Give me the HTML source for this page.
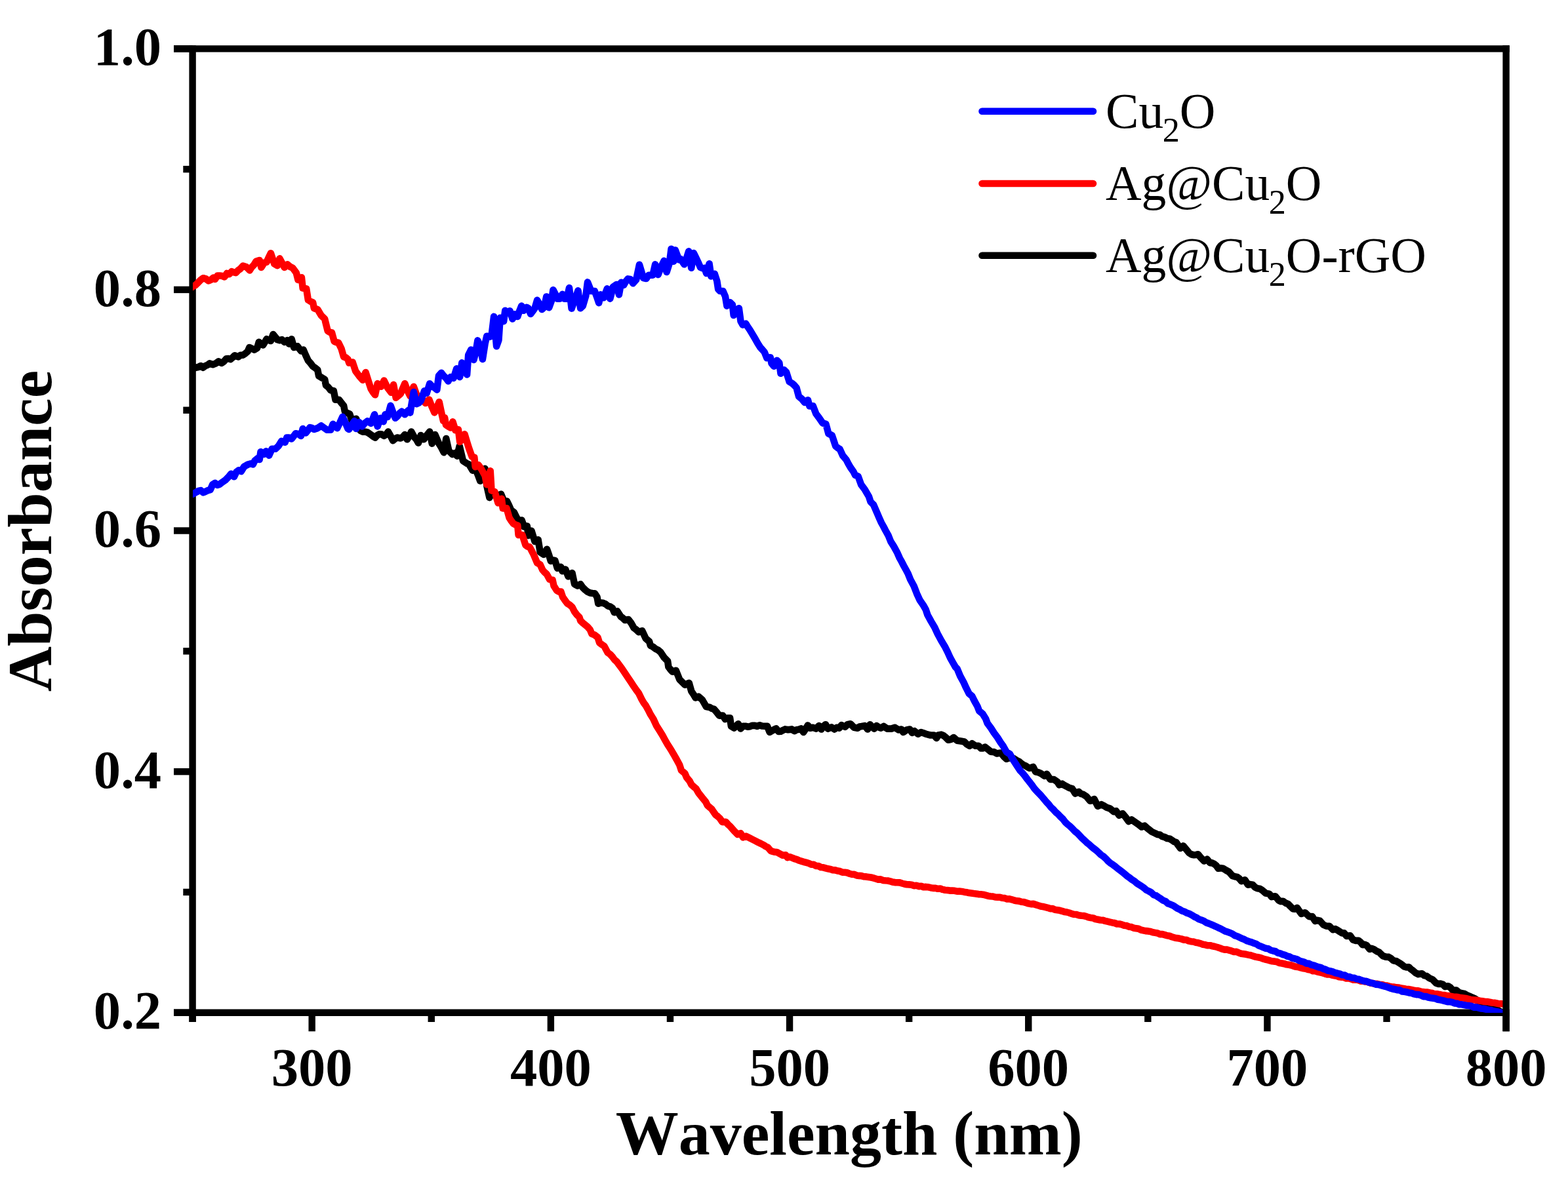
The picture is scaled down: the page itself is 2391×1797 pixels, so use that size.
<!DOCTYPE html>
<html lang="en">
<head>
<meta charset="utf-8">
<title>UV-Vis absorbance spectra</title>
<style>
html,body{margin:0;padding:0;background:#fff;}
body{width:2391px;height:1797px;overflow:hidden;}
svg{display:block;}
text{font-family:"Liberation Serif","DejaVu Serif",serif;fill:#000;font-kerning:none;}
.tick{font-weight:bold;font-size:82.6px;}
.title{font-weight:bold;font-size:96px;}
.leg{font-size:75.6px;}
.sub{font-size:52.2px;}
.ax{stroke:#000;stroke-width:10.4;fill:none;stroke-linecap:butt;}
.curve{fill:none;stroke-width:10.6;stroke-linejoin:round;stroke-linecap:round;}
</style>
</head>
<body>
<svg width="2391" height="1797" viewBox="0 0 2391 1797">
<defs><clipPath id="plot"><rect x="294.0" y="74.35" width="2003.0" height="1470.5500000000002"/></clipPath></defs>
<rect x="0" y="0" width="2391" height="1797" fill="#fff"/>
<g><path class="ax" d="M293.6,69.14999999999999 V1559.0"/><path class="ax" d="M265.0,1544.7 H2301.7999999999997"/><path class="ax" d="M265.0,1544.70 H293.6"/><path class="ax" d="M279.3,1360.91 H293.6"/><path class="ax" d="M265.0,1177.11 H293.6"/><path class="ax" d="M279.3,993.32 H293.6"/><path class="ax" d="M265.0,809.53 H293.6"/><path class="ax" d="M279.3,625.73 H293.6"/><path class="ax" d="M265.0,441.94 H293.6"/><path class="ax" d="M279.3,258.14 H293.6"/><path class="ax" d="M265.0,74.35 H293.6"/><path class="ax" d="M293.60,1544.7 V1559.0"/><path class="ax" d="M475.69,1544.7 V1573.3"/><path class="ax" d="M657.78,1544.7 V1559.0"/><path class="ax" d="M839.87,1544.7 V1573.3"/><path class="ax" d="M1021.96,1544.7 V1559.0"/><path class="ax" d="M1204.05,1544.7 V1573.3"/><path class="ax" d="M1386.15,1544.7 V1559.0"/><path class="ax" d="M1568.24,1544.7 V1573.3"/><path class="ax" d="M1750.33,1544.7 V1559.0"/><path class="ax" d="M1932.42,1544.7 V1573.3"/><path class="ax" d="M2114.51,1544.7 V1559.0"/><path class="ax" d="M2296.60,1544.7 V1573.3"/></g>
<g clip-path="url(#plot)">
<path class="curve" stroke="#000" d="M289.0,563.4 L292.2,562.7 L295.4,561.9 L298.6,560.7 L302.4,560.0 L306.2,558.0 L309.8,560.7 L313.1,558.1 L316.5,556.8 L319.8,554.4 L324.3,556.2 L328.8,554.6 L333.3,551.3 L337.9,553.9 L341.5,551.4 L345.1,547.2 L348.2,547.0 L351.4,548.1 L354.6,545.5 L357.8,542.3 L363.2,544.4 L366.8,541.7 L370.4,541.7 L374.0,539.3 L377.6,536.3 L380.4,530.0 L384.0,531.8 L387.6,533.6 L392.1,530.9 L394.8,521.8 L398.0,525.1 L401.2,526.4 L406.6,517.3 L409.8,518.7 L412.9,520.0 L416.5,510.1 L419.7,514.0 L422.9,518.2 L426.5,519.2 L430.1,518.2 L433.7,521.8 L438.2,519.1 L440.9,524.6 L444.6,517.3 L448.2,530.0 L453.6,528.2 L459.0,535.4 L462.6,533.6 L466.2,542.0 L469.9,549.9 L473.5,554.0 L477.1,558.9 L480.7,561.2 L484.3,564.3 L486.1,573.4 L490.6,576.1 L495.2,578.8 L497.0,587.8 L500.6,590.6 L504.2,595.3 L508.8,596.2 L511.5,609.7 L516.9,609.7 L520.5,614.5 L524.1,618.8 L525.9,627.8 L529.5,630.1 L533.2,631.4 L536.8,642.3 L540.0,640.3 L543.1,638.7 L546.2,648.5 L549.4,656.7 L553.0,658.6 L556.7,658.7 L560.3,659.5 L565.7,663.1 L568.9,665.7 L572.0,667.6 L575.2,664.1 L578.4,662.2 L582.0,662.6 L585.6,664.9 L588.8,662.8 L591.9,658.6 L595.5,664.9 L599.2,672.1 L602.4,669.2 L605.5,667.6 L610.9,668.5 L614.1,666.7 L617.3,663.1 L620.9,670.3 L624.0,665.0 L627.2,658.6 L631.7,666.7 L634.9,670.4 L638.0,675.7 L641.7,664.0 L646.2,670.3 L650.7,664.1 L655.2,658.6 L658.8,676.6 L663.4,663.1 L668.8,675.7 L672.8,682.4 L676.9,690.2 L680.3,669.1 L684.4,687.7 L689.8,693.1 L693.5,691.3 L697.1,695.8 L700.7,680.5 L706.1,703.1 L711.5,706.7 L715.2,708.5 L720.6,717.5 L725.1,715.7 L728.7,724.2 L732.3,733.8 L735.0,723.0 L739.6,714.8 L742.3,741.0 L746.4,759.1 L749.3,753.5 L752.2,750.1 L755.4,753.8 L758.6,757.3 L764.0,753.7 L768.5,764.6 L773.0,764.6 L776.1,770.9 L779.3,778.1 L783.9,781.7 L787.0,787.8 L790.2,794.4 L795.6,793.5 L799.2,803.4 L803.8,802.5 L805.6,817.0 L810.5,809.8 L815.5,826.0 L820.6,823.3 L823.7,842.3 L829.1,845.9 L834.0,837.8 L837.0,846.2 L839.9,855.9 L843.1,854.6 L846.3,855.0 L849.9,866.7 L855.3,864.9 L857.5,871.2 L862.2,868.5 L866.5,879.4 L869.5,875.7 L872.5,874.0 L876.1,891.1 L880.7,893.6 L885.2,891.2 L888.8,896.4 L892.4,899.9 L896.0,902.7 L899.7,904.4 L903.3,905.0 L906.9,905.3 L910.5,910.7 L912.3,920.7 L916.0,919.4 L919.6,919.8 L923.2,921.3 L926.8,924.3 L930.4,925.3 L934.0,927.9 L936.7,934.2 L941.3,932.4 L946.7,940.6 L949.9,942.9 L953.0,946.0 L958.4,945.1 L962.5,950.5 L966.6,957.8 L970.2,960.5 L973.8,964.1 L979.2,962.3 L984.7,974.0 L990.1,978.6 L991.9,984.9 L995.5,986.5 L999.1,989.4 L1003.2,991.4 L1007.3,994.8 L1012.7,1003.0 L1018.1,1008.4 L1019.4,1017.4 L1022.4,1021.4 L1025.4,1024.7 L1030.8,1022.9 L1036.2,1036.4 L1040.2,1040.4 L1044.3,1044.6 L1047.5,1043.1 L1050.7,1041.8 L1054.3,1054.5 L1057.4,1059.1 L1060.6,1064.4 L1065.1,1062.6 L1070.6,1067.2 L1073.8,1072.7 L1076.9,1078.0 L1082.3,1078.9 L1085.4,1080.9 L1088.6,1081.6 L1092.7,1086.2 L1096.8,1091.6 L1102.2,1091.6 L1105.8,1097.0 L1109.4,1095.2 L1113.1,1095.2 L1114.9,1107.8 L1119.4,1110.6 L1122.6,1107.4 L1125.7,1104.2 L1129.3,1111.5 L1132.9,1107.8 L1136.5,1107.7 L1140.2,1108.7 L1143.8,1108.2 L1147.4,1106.7 L1151.0,1106.9 L1154.6,1107.9 L1158.3,1106.2 L1161.9,1107.5 L1166.0,1107.7 L1170.0,1107.8 L1173.6,1116.9 L1176.9,1115.0 L1180.3,1112.9 L1183.6,1111.5 L1187.2,1116.0 L1190.5,1115.7 L1193.8,1114.0 L1197.1,1112.4 L1201.7,1113.3 L1207.1,1112.4 L1211.6,1115.1 L1214.9,1113.2 L1218.3,1112.7 L1221.6,1111.5 L1225.1,1117.0 L1228.4,1112.0 L1231.8,1106.5 L1235.4,1110.7 L1239.9,1109.8 L1244.4,1111.6 L1248.9,1107.1 L1252.5,1112.5 L1255.7,1107.8 L1258.9,1105.2 L1262.5,1111.6 L1267.9,1109.4 L1272.4,1112.5 L1276.1,1109.8 L1279.7,1110.7 L1283.3,1106.1 L1288.7,1108.9 L1292.3,1105.2 L1296.9,1104.3 L1302.3,1109.8 L1307.7,1110.7 L1310.8,1108.4 L1314.0,1108.0 L1318.6,1107.1 L1323.1,1112.5 L1326.7,1105.2 L1329.8,1108.6 L1333.0,1111.6 L1336.6,1107.1 L1339.8,1109.4 L1343.0,1110.7 L1347.5,1108.0 L1352.9,1111.6 L1356.1,1111.5 L1359.2,1111.6 L1364.7,1109.8 L1370.1,1113.4 L1374.6,1112.5 L1377.3,1117.0 L1382.7,1113.4 L1387.3,1112.5 L1390.9,1117.9 L1394.5,1115.2 L1399.9,1119.7 L1404.4,1117.0 L1408.1,1118.2 L1411.7,1119.7 L1415.3,1120.6 L1418.9,1121.5 L1424.3,1121.5 L1428.0,1126.0 L1430.7,1121.5 L1435.2,1120.6 L1438.3,1121.9 L1441.5,1124.2 L1446.0,1128.8 L1450.6,1127.8 L1454.2,1125.1 L1459.6,1129.7 L1465.0,1130.6 L1470.5,1131.5 L1474.5,1135.5 L1478.6,1137.8 L1482.2,1134.2 L1487.6,1137.8 L1492.2,1137.8 L1495.8,1141.4 L1498.9,1141.5 L1502.1,1139.6 L1506.6,1143.2 L1511.1,1146.8 L1515.7,1147.1 L1520.2,1149.5 L1523.3,1148.8 L1526.5,1148.6 L1530.5,1153.8 L1534.6,1157.7 L1538.2,1156.4 L1541.9,1155.9 L1546.4,1157.3 L1550.9,1160.4 L1554.1,1161.8 L1557.3,1164.5 L1560.5,1166.8 L1563.7,1168.1 L1566.8,1170.2 L1570.0,1171.8 L1575.4,1169.9 L1579.0,1177.2 L1583.1,1178.1 L1587.2,1179.9 L1592.6,1183.5 L1596.2,1180.8 L1601.6,1188.9 L1607.1,1189.0 L1612.5,1192.8 L1615.2,1197.4 L1619.7,1195.7 L1622.8,1197.8 L1626.0,1199.4 L1630.5,1201.9 L1635.1,1203.2 L1639.6,1210.5 L1645.0,1207.9 L1648.2,1210.8 L1651.4,1211.6 L1656.8,1215.2 L1662.2,1221.7 L1665.3,1221.1 L1668.5,1219.0 L1674.0,1229.8 L1679.4,1227.2 L1683.5,1229.3 L1687.5,1231.7 L1692.9,1233.6 L1698.4,1238.2 L1702.0,1237.2 L1706.5,1243.7 L1711.9,1241.1 L1716.5,1246.6 L1721.0,1253.0 L1725.5,1250.4 L1730.9,1254.1 L1736.3,1257.8 L1740.9,1261.5 L1745.4,1259.7 L1750.8,1264.4 L1756.2,1268.7 L1761.7,1271.2 L1765.3,1273.1 L1768.9,1273.6 L1772.5,1276.2 L1776.1,1277.0 L1779.8,1279.0 L1783.4,1279.4 L1787.2,1281.7 L1790.4,1284.0 L1793.6,1285.1 L1796.8,1289.7 L1799.9,1293.9 L1804.4,1290.4 L1809.0,1295.9 L1813.5,1301.3 L1817.1,1303.5 L1820.7,1304.2 L1823.8,1304.0 L1827.0,1303.3 L1831.5,1308.8 L1836.1,1313.4 L1840.6,1310.8 L1845.1,1316.1 L1848.2,1316.4 L1851.4,1317.8 L1854.6,1320.4 L1857.8,1324.8 L1861.4,1324.2 L1865.0,1324.7 L1869.5,1327.5 L1874.0,1330.0 L1879.5,1336.2 L1883.1,1337.2 L1886.7,1337.9 L1889.8,1340.3 L1893.0,1344.1 L1898.4,1342.4 L1903.0,1349.7 L1906.6,1349.1 L1910.2,1349.8 L1913.8,1353.5 L1917.4,1355.3 L1921.1,1355.7 L1924.7,1358.0 L1930.1,1362.6 L1935.5,1363.6 L1939.1,1368.1 L1944.6,1367.2 L1950.0,1373.7 L1953.2,1375.1 L1956.3,1374.7 L1960.3,1377.5 L1964.4,1379.2 L1968.1,1383.0 L1971.7,1386.5 L1974.8,1386.7 L1978.0,1384.8 L1981.2,1389.7 L1984.3,1393.9 L1989.8,1392.2 L1991.0,1393.0 L1996.4,1398.2 L2000.9,1398.0 L2005.5,1405.0 L2009.1,1403.8 L2012.7,1404.7 L2018.1,1410.7 L2022.7,1412.8 L2027.2,1412.9 L2032.6,1418.1 L2036.2,1417.0 L2039.8,1419.1 L2043.4,1421.5 L2046.6,1423.4 L2049.8,1423.4 L2053.4,1428.0 L2058.8,1427.3 L2063.3,1433.7 L2067.4,1434.9 L2071.5,1434.8 L2074.7,1437.2 L2077.8,1441.2 L2080.9,1440.7 L2084.1,1442.3 L2088.6,1447.9 L2091.8,1446.9 L2095.0,1448.1 L2099.1,1451.0 L2103.1,1452.7 L2108.5,1458.1 L2113.1,1459.6 L2117.6,1459.9 L2121.2,1462.1 L2124.8,1465.4 L2129.4,1466.3 L2133.9,1469.0 L2137.5,1471.4 L2141.1,1474.4 L2144.7,1475.5 L2148.3,1475.3 L2151.5,1478.5 L2154.7,1480.7 L2158.8,1484.2 L2162.8,1486.1 L2168.2,1485.2 L2171.8,1488.1 L2175.4,1488.9 L2179.9,1492.2 L2184.5,1494.3 L2189.9,1499.7 L2193.5,1500.9 L2197.1,1500.6 L2200.3,1501.8 L2203.5,1505.1 L2208.0,1504.2 L2211.6,1506.3 L2215.2,1510.6 L2220.7,1510.6 L2224.3,1513.6 L2227.9,1515.1 L2233.3,1516.0 L2236.9,1518.1 L2240.5,1519.6 L2244.7,1521.5 L2249.0,1523.3 L2253.2,1526.4 L2256.6,1527.6 L2260.0,1529.6 L2263.0,1530.7 L2266.0,1532.6 L2269.5,1534.3 L2273.0,1536.0 L2276.5,1537.5 L2280.0,1539.3 L2283.0,1540.1 L2286.0,1542.2 L2291.0,1544.6 L2295.5,1545.8 L2300.0,1548.8"/>
<path class="curve" stroke="#f00" d="M289.0,440.5 L294.5,436.9 L298.1,435.0 L301.7,431.4 L305.8,427.2 L309.8,424.2 L313.9,425.4 L318.0,428.4 L321.6,426.9 L325.2,423.7 L327.9,426.0 L331.5,420.6 L335.1,420.6 L338.8,421.1 L342.4,422.4 L346.0,417.0 L349.6,418.2 L353.2,414.2 L356.4,415.4 L359.6,416.1 L363.2,412.3 L366.8,409.8 L370.4,405.6 L375.8,407.4 L380.7,412.4 L383.9,407.4 L387.1,404.2 L390.3,398.9 L395.7,397.1 L398.4,407.9 L403.0,400.7 L406.6,399.8 L409.8,392.7 L412.9,386.2 L418.3,402.5 L422.9,405.2 L426.5,394.4 L430.1,401.3 L433.7,407.9 L438.2,403.4 L442.3,406.9 L446.4,408.8 L451.8,416.1 L454.5,426.9 L459.9,423.3 L461.7,439.6 L467.2,440.5 L469.9,457.6 L473.5,459.8 L477.1,461.3 L478.9,470.3 L484.3,472.1 L489.8,481.2 L495.2,486.6 L499.7,504.7 L502.9,506.8 L506.0,507.4 L509.7,520.9 L512.9,522.2 L516.0,522.7 L520.5,531.8 L524.1,544.4 L527.3,545.4 L530.5,548.1 L532.3,553.5 L537.7,552.6 L542.2,566.1 L547.6,573.4 L553.1,579.7 L557.6,568.0 L562.1,582.4 L565.7,593.3 L568.9,598.5 L572.0,602.3 L575.7,585.1 L581.1,589.7 L585.6,580.6 L591.0,591.5 L596.5,598.7 L600.1,586.9 L603.7,606.8 L607.3,603.8 L610.9,600.5 L614.1,592.5 L617.3,585.1 L620.9,595.1 L625.4,604.1 L630.8,589.7 L635.3,602.3 L639.4,605.3 L643.5,609.5 L648.9,615.0 L654.3,609.5 L658.4,620.1 L662.5,629.4 L666.1,621.4 L669.7,613.2 L672.9,628.4 L676.0,642.1 L678.1,637.1 L679.9,647.9 L683.5,650.6 L687.1,652.4 L690.4,643.4 L694.4,656.1 L698.9,655.2 L701.2,674.1 L704.9,669.1 L708.5,662.4 L711.5,672.3 L715.2,684.1 L719.7,696.7 L723.3,697.6 L724.7,712.1 L729.6,709.4 L734.1,715.7 L739.6,725.7 L742.3,739.2 L747.7,718.4 L749.5,748.3 L754.4,750.1 L759.5,767.3 L764.9,760.9 L766.7,775.4 L769.6,775.5 L772.5,775.4 L776.6,789.9 L779.8,794.8 L783.0,798.9 L786.1,800.5 L789.3,801.6 L790.6,816.1 L793.5,815.7 L796.5,816.1 L801.4,831.5 L804.4,833.7 L807.4,834.2 L810.5,839.7 L813.7,845.9 L819.1,858.6 L823.7,861.3 L827.3,869.4 L830.5,873.1 L833.6,875.8 L838.1,883.9 L842.6,884.8 L844.5,893.6 L849.0,900.8 L852.2,902.5 L855.4,902.6 L858.1,910.7 L861.7,916.0 L865.3,920.7 L868.9,922.8 L872.5,926.1 L876.2,933.3 L879.8,938.0 L883.4,941.5 L885.2,946.9 L888.8,950.4 L892.4,953.2 L896.0,956.3 L899.7,960.5 L902.4,966.8 L906.9,968.7 L911.4,972.2 L914.1,980.4 L917.8,983.2 L921.4,985.8 L926.8,995.7 L930.4,998.1 L934.0,1002.1 L937.2,1006.5 L940.4,1009.3 L944.5,1014.7 L948.5,1020.1 L953.0,1026.9 L957.5,1033.7 L962.0,1040.3 L966.6,1047.3 L970.2,1052.5 L973.8,1057.2 L978.3,1066.3 L981.5,1072.0 L984.7,1076.2 L988.3,1082.7 L991.9,1089.8 L996.4,1097.0 L1000.9,1106.9 L1005.5,1114.1 L1010.0,1121.4 L1014.0,1128.7 L1018.1,1135.9 L1021.2,1140.7 L1024.4,1145.8 L1028.1,1152.2 L1031.7,1158.5 L1036.3,1167.1 L1039.0,1175.3 L1044.4,1179.8 L1047.1,1186.1 L1051.6,1191.5 L1054.4,1197.0 L1058.0,1200.2 L1061.6,1203.3 L1065.2,1209.6 L1068.8,1214.1 L1072.4,1218.7 L1076.1,1223.2 L1078.8,1228.6 L1081.9,1231.4 L1085.1,1234.0 L1088.2,1238.6 L1091.4,1243.1 L1094.6,1245.5 L1097.8,1248.5 L1101.4,1253.9 L1106.8,1253.9 L1110.4,1257.9 L1114.0,1261.2 L1119.5,1267.5 L1124.9,1272.9 L1129.4,1271.1 L1133.0,1277.4 L1137.5,1275.6 L1142.0,1277.7 L1146.6,1280.1 L1151.1,1282.4 L1155.6,1284.7 L1160.2,1286.9 L1164.7,1289.2 L1167.8,1291.3 L1171.0,1292.8 L1175.5,1298.2 L1180.0,1299.4 L1184.6,1299.9 L1189.1,1302.4 L1193.6,1304.8 L1198.1,1304.4 L1200.8,1308.1 L1204.4,1307.2 L1208.1,1308.6 L1211.7,1310.2 L1215.3,1311.2 L1218.9,1312.8 L1222.5,1313.9 L1226.2,1315.0 L1229.8,1315.9 L1233.5,1317.0 L1237.1,1318.7 L1240.8,1318.8 L1244.4,1320.9 L1248.0,1321.0 L1251.7,1323.0 L1255.3,1323.3 L1259.0,1324.4 L1262.6,1325.3 L1266.2,1325.9 L1269.9,1327.3 L1273.5,1327.4 L1277.2,1328.5 L1280.8,1329.1 L1284.5,1330.7 L1288.1,1330.7 L1291.7,1331.3 L1295.4,1332.7 L1299.0,1333.8 L1302.7,1333.9 L1306.3,1335.4 L1310.0,1335.9 L1313.6,1336.1 L1317.2,1337.2 L1320.9,1337.4 L1324.5,1337.9 L1328.2,1338.5 L1331.8,1339.4 L1335.4,1340.5 L1339.1,1341.6 L1342.7,1341.4 L1346.4,1342.9 L1350.0,1343.3 L1353.7,1343.5 L1357.3,1344.3 L1360.9,1345.5 L1364.6,1346.1 L1368.2,1346.3 L1371.9,1346.4 L1375.5,1347.5 L1379.1,1348.5 L1382.8,1349.3 L1386.4,1349.4 L1390.1,1349.7 L1393.7,1351.1 L1397.4,1350.8 L1401.0,1352.1 L1404.6,1351.8 L1408.3,1353.2 L1411.9,1352.9 L1415.6,1353.3 L1419.2,1354.2 L1422.9,1354.9 L1426.5,1354.9 L1430.1,1355.8 L1433.8,1355.6 L1437.4,1356.9 L1441.1,1357.7 L1444.7,1358.0 L1448.3,1358.6 L1452.0,1358.5 L1455.6,1358.8 L1459.3,1359.7 L1462.9,1359.5 L1466.6,1359.9 L1470.2,1360.7 L1473.8,1361.2 L1477.5,1362.1 L1481.1,1362.6 L1484.8,1363.1 L1488.4,1363.5 L1492.1,1364.1 L1495.7,1364.3 L1499.3,1364.7 L1503.0,1365.7 L1506.6,1366.7 L1510.3,1367.2 L1513.9,1367.5 L1517.5,1368.5 L1521.2,1368.7 L1524.8,1368.8 L1528.5,1369.8 L1532.1,1370.1 L1535.8,1371.5 L1539.4,1371.4 L1543.0,1372.3 L1546.7,1373.5 L1550.3,1374.3 L1554.0,1374.6 L1557.6,1375.7 L1561.2,1376.1 L1564.9,1377.2 L1568.5,1378.4 L1572.2,1379.1 L1575.8,1378.9 L1579.5,1380.1 L1583.1,1381.3 L1586.7,1382.4 L1590.4,1383.0 L1594.0,1383.8 L1597.7,1384.8 L1601.3,1386.1 L1605.0,1386.0 L1608.6,1387.8 L1612.2,1388.2 L1615.9,1388.8 L1619.5,1389.8 L1623.2,1391.1 L1626.8,1391.5 L1630.4,1392.5 L1634.1,1393.9 L1637.7,1394.8 L1641.4,1395.0 L1645.0,1396.2 L1648.7,1396.8 L1652.3,1397.0 L1655.9,1397.9 L1659.6,1399.3 L1663.2,1399.9 L1666.9,1400.4 L1670.5,1402.1 L1674.2,1402.8 L1677.8,1403.5 L1681.4,1403.7 L1685.1,1404.8 L1688.7,1405.7 L1692.4,1406.6 L1696.0,1407.4 L1699.6,1408.0 L1703.3,1409.5 L1706.9,1409.5 L1710.6,1410.4 L1714.2,1411.8 L1717.9,1412.1 L1721.5,1413.7 L1725.1,1414.1 L1728.8,1415.7 L1732.4,1416.2 L1736.1,1416.8 L1739.7,1418.5 L1743.3,1419.3 L1747.0,1420.1 L1750.6,1420.4 L1754.3,1421.0 L1757.9,1422.2 L1761.6,1422.9 L1765.2,1423.5 L1768.8,1425.1 L1772.5,1425.1 L1776.1,1426.1 L1779.8,1427.3 L1783.4,1427.8 L1787.1,1429.2 L1790.7,1430.3 L1794.3,1431.1 L1798.0,1431.6 L1801.6,1432.4 L1805.3,1433.6 L1808.9,1433.7 L1812.5,1435.3 L1816.2,1436.2 L1819.8,1436.5 L1823.5,1437.7 L1827.1,1438.3 L1830.8,1439.4 L1834.4,1440.8 L1838.0,1441.3 L1841.7,1442.3 L1845.3,1442.2 L1849.0,1443.3 L1852.6,1444.0 L1856.3,1445.0 L1859.9,1446.2 L1863.5,1447.7 L1867.2,1448.6 L1870.8,1448.5 L1874.5,1449.7 L1878.1,1450.7 L1881.7,1452.0 L1885.4,1451.9 L1889.0,1453.4 L1892.7,1454.7 L1896.3,1455.2 L1900.0,1455.8 L1903.6,1456.6 L1907.2,1457.3 L1910.9,1458.5 L1914.5,1459.6 L1918.2,1460.3 L1921.8,1460.9 L1925.4,1462.4 L1929.1,1463.5 L1932.7,1464.2 L1936.4,1465.4 L1940.0,1466.3 L1943.7,1466.6 L1947.3,1467.3 L1950.9,1469.1 L1954.6,1469.5 L1958.2,1470.2 L1961.9,1471.3 L1965.5,1471.8 L1969.2,1472.5 L1972.8,1473.8 L1976.4,1474.8 L1980.1,1475.2 L1983.7,1476.4 L1987.4,1477.2 L1991.0,1477.7 L1994.6,1478.9 L1998.3,1479.5 L2001.9,1481.2 L2005.6,1481.2 L2009.2,1482.5 L2012.9,1483.3 L2016.5,1484.1 L2020.1,1485.3 L2023.8,1486.4 L2027.4,1486.3 L2031.1,1487.6 L2034.7,1488.2 L2038.4,1488.9 L2042.0,1490.3 L2045.6,1490.6 L2049.3,1491.1 L2052.9,1492.5 L2056.6,1492.3 L2060.2,1493.4 L2063.8,1494.8 L2067.5,1494.4 L2071.1,1495.1 L2074.8,1496.6 L2078.4,1496.4 L2082.1,1497.6 L2085.7,1498.0 L2089.3,1499.4 L2093.0,1500.0 L2096.6,1500.8 L2100.3,1500.9 L2103.9,1501.8 L2107.5,1502.0 L2111.2,1503.3 L2114.8,1503.6 L2118.5,1504.7 L2122.1,1505.5 L2125.8,1505.6 L2129.4,1506.4 L2133.0,1506.5 L2136.7,1507.6 L2140.3,1508.1 L2144.0,1508.7 L2147.6,1509.0 L2151.3,1509.7 L2154.9,1510.5 L2158.5,1511.2 L2162.2,1511.2 L2165.8,1512.4 L2169.5,1513.1 L2173.1,1513.5 L2176.7,1513.6 L2180.4,1514.5 L2184.0,1515.1 L2187.7,1516.4 L2191.3,1516.3 L2195.0,1516.9 L2198.6,1517.9 L2202.2,1518.0 L2205.9,1518.9 L2209.5,1519.1 L2213.2,1520.1 L2216.8,1520.7 L2220.5,1520.8 L2224.1,1521.3 L2227.7,1522.1 L2231.4,1522.5 L2235.0,1523.0 L2238.7,1523.9 L2242.3,1524.9 L2245.9,1525.3 L2249.6,1525.5 L2253.2,1526.1 L2256.9,1526.7 L2260.5,1527.2 L2264.2,1528.0 L2267.8,1528.1 L2271.4,1528.7 L2275.1,1529.5 L2278.7,1529.8 L2282.4,1530.5 L2286.0,1531.3 L2289.6,1531.1 L2293.3,1531.9 L2296.9,1533.2 L2300.0,1533.2"/>
<path class="curve" stroke="#00f" d="M289.0,755.3 L294.5,753.5 L298.6,751.2 L302.6,749.0 L306.2,748.1 L309.8,751.3 L313.0,750.0 L316.2,748.4 L320.7,747.2 L324.3,739.0 L327.9,736.9 L331.5,739.9 L334.7,738.9 L337.9,736.3 L343.3,732.7 L348.7,727.3 L352.3,722.7 L356.9,727.3 L360.5,720.0 L364.1,717.3 L367.7,719.1 L372.2,711.9 L375.4,710.0 L378.6,708.3 L382.2,707.4 L385.8,708.3 L388.5,702.9 L393.0,699.2 L395.7,701.0 L397.5,689.3 L403.0,692.9 L405.7,688.4 L410.2,694.7 L414.7,684.8 L420.1,684.8 L424.7,680.3 L429.2,673.0 L434.6,674.8 L437.3,667.6 L440.9,667.6 L444.6,669.4 L447.8,665.4 L450.9,661.3 L455.4,662.2 L459.0,664.9 L461.7,654.0 L466.3,660.4 L469.5,656.5 L472.6,652.2 L475.8,653.0 L478.9,654.9 L484.3,653.1 L489.8,649.5 L494.3,652.7 L498.8,655.8 L504.2,655.8 L507.8,646.8 L511.0,650.2 L514.2,653.1 L518.2,645.0 L522.3,635.9 L526.4,644.2 L530.5,654.0 L532.3,654.9 L536.3,648.2 L540.4,642.3 L543.1,654.0 L547.6,644.1 L552.2,650.4 L556.2,645.6 L560.3,642.3 L565.7,645.9 L571.1,632.3 L575.7,650.4 L580.2,637.8 L584.7,643.2 L587.4,632.3 L591.0,635.9 L595.6,618.8 L599.2,628.9 L602.8,637.8 L606.1,634.8 L609.4,630.3 L612.7,627.8 L617.3,632.3 L622.7,626.0 L625.4,629.6 L630.8,598.0 L635.3,616.1 L638.5,614.7 L641.7,611.5 L647.1,596.2 L650.7,599.8 L655.2,585.3 L658.5,588.9 L661.9,591.0 L665.2,593.5 L666.3,594.6 L669.0,573.3 L673.0,568.8 L676.5,573.2 L680.0,576.6 L683.5,581.4 L687.1,575.1 L691.6,576.9 L696.2,562.4 L701.2,575.1 L704.3,553.4 L707.9,556.1 L712.1,571.5 L714.2,541.6 L718.2,533.5 L722.4,548.9 L725.1,538.9 L728.4,519.4 L732.3,528.1 L735.9,548.0 L739.6,524.4 L742.3,512.7 L746.8,513.6 L749.5,512.7 L753.1,482.9 L757.1,528.1 L760.4,519.0 L762.7,484.7 L768.1,490.1 L770.3,473.8 L773.9,477.4 L777.5,474.2 L781.5,486.5 L784.8,479.2 L789.3,482.9 L792.3,473.9 L795.3,466.6 L798.3,473.8 L802.9,468.8 L805.6,470.2 L809.2,478.9 L812.4,474.6 L815.5,470.2 L819.1,457.9 L822.8,464.2 L826.4,472.0 L830.0,468.4 L833.2,452.5 L837.2,469.3 L840.8,459.3 L843.5,442.2 L846.7,448.4 L849.9,455.7 L853.5,455.7 L857.5,448.9 L860.7,455.7 L864.3,455.7 L868.0,439.1 L871.6,470.6 L877.0,455.7 L881.5,443.4 L885.1,470.2 L888.8,466.6 L893.3,451.2 L896.0,430.4 L901.4,444.0 L906.8,444.0 L910.0,452.6 L913.2,462.1 L915.9,449.4 L920.4,454.3 L925.8,440.4 L930.3,455.7 L934.9,437.6 L940.3,434.0 L943.9,449.4 L947.2,430.8 L951.1,434.9 L954.3,429.3 L957.5,425.4 L961.1,425.9 L965.2,432.2 L970.1,426.8 L975.0,403.7 L978.0,413.8 L981.0,424.1 L985.5,425.0 L989.1,419.9 L992.2,419.6 L995.4,419.6 L999.1,403.3 L1003.6,419.0 L1008.1,406.9 L1012.6,397.9 L1016.6,415.0 L1020.8,401.5 L1023.5,379.8 L1027.1,398.8 L1029.8,381.6 L1035.2,396.1 L1037.9,395.2 L1043.4,403.3 L1046.8,394.0 L1050.2,383.4 L1054.2,408.7 L1057.8,386.1 L1061.1,392.9 L1064.4,399.7 L1068.0,407.8 L1072.5,409.6 L1074.4,408.7 L1077.1,416.9 L1081.6,402.4 L1084.3,421.4 L1089.7,417.8 L1093.3,428.6 L1095.2,441.3 L1097.9,444.0 L1102.4,444.0 L1106.0,452.1 L1108.4,466.6 L1113.2,461.2 L1116.9,464.8 L1118.7,481.0 L1122.3,475.6 L1126.8,470.2 L1129.5,490.1 L1132.6,495.5 L1137.3,493.7 L1140.2,498.5 L1143.1,502.7 L1147.2,509.5 L1151.2,516.3 L1155.2,523.4 L1159.3,529.9 L1162.5,533.4 L1165.7,537.1 L1169.3,546.1 L1174.7,545.2 L1176.5,554.3 L1180.1,558.8 L1184.7,549.8 L1188.3,553.4 L1190.5,569.7 L1195.5,564.2 L1199.1,567.8 L1203.7,582.3 L1208.2,585.0 L1211.3,587.8 L1214.5,591.4 L1218.1,604.9 L1222.6,608.5 L1227.2,614.0 L1232.0,610.3 L1234.4,619.4 L1239.8,619.4 L1244.3,631.1 L1248.9,637.2 L1254.4,645.3 L1259.4,646.8 L1263.4,661.6 L1268.8,664.3 L1274.2,680.6 L1277.4,683.2 L1280.6,685.1 L1285.1,695.0 L1290.5,701.4 L1293.7,707.6 L1296.9,713.1 L1301.4,719.5 L1304.1,724.9 L1308.6,726.7 L1313.1,739.3 L1318.6,746.6 L1321.8,752.2 L1324.9,757.4 L1327.6,765.6 L1332.1,770.1 L1337.5,782.7 L1340.7,790.1 L1343.9,797.2 L1347.1,803.0 L1350.2,809.0 L1354.7,817.1 L1358.3,826.1 L1362.9,833.4 L1368.3,843.3 L1371.9,851.5 L1375.1,857.2 L1378.2,863.2 L1381.4,869.0 L1384.6,875.0 L1388.2,884.0 L1393.6,894.0 L1398.1,905.7 L1402.6,915.4 L1408.1,923.5 L1411.7,929.8 L1414.4,938.0 L1419.8,947.9 L1425.2,957.0 L1429.8,966.9 L1435.2,976.9 L1440.6,985.9 L1445.1,994.9 L1448.8,1003.1 L1453.3,1011.2 L1456.9,1017.5 L1459.6,1020.3 L1464.1,1031.1 L1469.5,1041.0 L1473.2,1049.2 L1477.7,1058.2 L1482.2,1061.8 L1485.8,1069.1 L1490.3,1077.2 L1493.1,1084.4 L1498.5,1089.0 L1503.0,1096.2 L1505.7,1103.4 L1511.1,1110.7 L1515.7,1117.9 L1521.1,1125.1 L1525.6,1132.4 L1530.1,1138.7 L1534.6,1146.8 L1540.1,1150.5 L1544.6,1158.6 L1550.1,1167.2 L1555.5,1175.4 L1559.1,1179.1 L1562.7,1183.5 L1566.8,1189.0 L1570.9,1194.1 L1574.1,1198.3 L1577.2,1202.7 L1580.8,1206.8 L1584.4,1210.4 L1588.1,1214.4 L1591.7,1218.6 L1595.3,1223.0 L1598.9,1226.7 L1602.5,1231.4 L1606.2,1234.7 L1609.8,1238.9 L1613.5,1242.0 L1617.1,1245.9 L1620.8,1249.4 L1624.4,1254.1 L1628.0,1257.5 L1631.7,1260.5 L1635.3,1264.0 L1639.0,1268.0 L1642.6,1270.8 L1646.2,1274.4 L1649.9,1278.6 L1653.5,1281.7 L1657.2,1285.3 L1660.8,1288.2 L1664.5,1291.6 L1668.1,1294.5 L1671.7,1297.3 L1675.4,1300.6 L1679.0,1304.1 L1682.7,1306.5 L1686.3,1309.8 L1690.0,1313.9 L1693.6,1316.8 L1697.2,1319.2 L1700.9,1322.0 L1704.5,1325.0 L1708.2,1327.7 L1711.8,1330.4 L1715.4,1333.5 L1719.1,1336.6 L1722.7,1339.1 L1726.4,1342.1 L1730.0,1344.3 L1733.7,1347.5 L1737.3,1349.8 L1740.9,1352.0 L1744.6,1354.6 L1748.2,1357.8 L1751.9,1359.5 L1755.5,1361.5 L1759.1,1364.9 L1762.8,1366.1 L1766.4,1368.6 L1770.1,1371.0 L1773.7,1373.6 L1777.4,1375.0 L1781.0,1378.3 L1784.6,1379.6 L1788.3,1381.1 L1791.9,1383.3 L1795.6,1385.9 L1799.2,1387.4 L1802.9,1389.7 L1806.5,1390.8 L1810.1,1392.8 L1813.8,1394.1 L1817.4,1395.9 L1821.1,1398.3 L1824.7,1399.9 L1828.3,1402.3 L1832.0,1403.5 L1835.6,1404.9 L1839.3,1407.4 L1842.9,1408.6 L1846.6,1410.1 L1850.2,1411.7 L1853.8,1413.3 L1857.5,1415.1 L1861.1,1416.7 L1864.8,1418.7 L1868.4,1420.7 L1872.1,1421.7 L1875.7,1423.0 L1879.3,1424.6 L1883.0,1427.1 L1886.6,1428.2 L1890.3,1430.0 L1893.9,1431.8 L1897.5,1433.1 L1901.2,1435.1 L1904.8,1436.3 L1908.5,1437.4 L1912.1,1438.9 L1915.8,1440.0 L1919.4,1442.5 L1923.0,1443.7 L1926.7,1445.4 L1930.3,1446.8 L1934.0,1447.3 L1937.6,1449.5 L1941.2,1450.5 L1944.9,1451.3 L1948.5,1453.6 L1952.2,1454.4 L1955.8,1456.0 L1959.5,1456.9 L1963.1,1458.8 L1966.7,1459.5 L1970.4,1461.6 L1974.0,1462.3 L1977.7,1463.3 L1981.3,1465.5 L1985.0,1466.7 L1988.6,1467.6 L1992.2,1469.7 L1995.9,1469.9 L1999.5,1471.8 L2003.2,1472.6 L2006.8,1473.9 L2010.4,1475.2 L2014.1,1476.0 L2017.7,1477.9 L2021.4,1478.9 L2025.0,1480.7 L2028.7,1481.4 L2032.3,1482.4 L2035.9,1484.0 L2039.6,1484.8 L2043.2,1485.7 L2046.9,1487.3 L2050.5,1487.5 L2054.2,1489.7 L2057.8,1490.0 L2061.4,1491.6 L2065.1,1491.8 L2068.7,1493.5 L2072.4,1493.8 L2076.0,1495.3 L2079.6,1496.6 L2083.3,1496.7 L2086.9,1498.4 L2090.6,1499.4 L2094.2,1500.1 L2097.9,1501.6 L2101.5,1501.9 L2105.1,1502.8 L2108.8,1503.8 L2112.4,1504.8 L2116.1,1506.0 L2119.7,1507.4 L2123.3,1508.5 L2127.0,1509.2 L2130.6,1510.2 L2134.3,1510.4 L2137.9,1512.4 L2141.6,1512.8 L2145.2,1513.4 L2148.8,1514.5 L2152.5,1514.9 L2156.1,1516.4 L2159.8,1517.1 L2163.4,1517.3 L2167.1,1518.5 L2170.7,1520.1 L2174.3,1520.0 L2178.0,1521.5 L2181.6,1522.2 L2185.3,1522.7 L2188.9,1523.3 L2192.5,1524.7 L2196.2,1525.4 L2199.8,1526.1 L2203.5,1527.2 L2207.1,1528.1 L2210.8,1528.1 L2214.4,1528.9 L2218.0,1530.4 L2221.7,1530.8 L2225.3,1532.2 L2229.0,1532.3 L2232.6,1533.1 L2236.3,1533.7 L2239.9,1534.1 L2243.5,1534.8 L2247.2,1536.6 L2250.8,1536.4 L2254.5,1537.5 L2258.1,1538.5 L2261.7,1538.8 L2265.4,1539.5 L2269.0,1540.5 L2272.7,1540.9 L2276.3,1541.9 L2280.0,1542.6 L2283.6,1543.3 L2287.2,1544.3 L2290.9,1545.6 L2294.5,1546.4 L2298.2,1546.5 L2300.0,1547.0"/>
</g>
<path class="ax" d="M265.0,74.35 H2301.7999999999997"/><path class="ax" d="M2296.6,69.14999999999999 V1573.3"/>
<text class="tick" x="475.7" y="1656.3" text-anchor="middle">300</text><text class="tick" x="839.9" y="1656.3" text-anchor="middle">400</text><text class="tick" x="1204.1" y="1656.3" text-anchor="middle">500</text><text class="tick" x="1568.2" y="1656.3" text-anchor="middle">600</text><text class="tick" x="1932.4" y="1656.3" text-anchor="middle">700</text><text class="tick" x="2296.6" y="1656.3" text-anchor="middle">800</text>
<text class="tick" x="246.1" y="1569.3" text-anchor="end">0.2</text><text class="tick" x="246.1" y="1201.7" text-anchor="end">0.4</text><text class="tick" x="246.1" y="834.1" text-anchor="end">0.6</text><text class="tick" x="246.1" y="466.5" text-anchor="end">0.8</text><text class="tick" x="246.1" y="98.9" text-anchor="end">1.0</text>
<text class="title" x="1294.7" y="1760.7" text-anchor="middle">Wavelength (nm)</text>
<text class="title" transform="translate(78.2,810) rotate(-90)" text-anchor="middle">Absorbance</text>
<path d="M1497.5,169.8 H1667.0" stroke="#00f" stroke-width="10.6" stroke-linecap="round" fill="none"/><path d="M1497.5,280.0 H1667.0" stroke="#f00" stroke-width="10.6" stroke-linecap="round" fill="none"/><path d="M1497.5,389.7 H1667.0" stroke="#000" stroke-width="10.6" stroke-linecap="round" fill="none"/>
<text class="leg" x="1686" y="195.0">Cu<tspan class="sub" dx="-1.5" dy="21">2</tspan><tspan dy="-21">O</tspan></text>
<text class="leg" x="1686" y="304.6">Ag@Cu<tspan class="sub" dx="-1.5" dy="21">2</tspan><tspan dy="-21">O</tspan></text>
<text class="leg" x="1686" y="414.6">Ag@Cu<tspan class="sub" dx="-1.5" dy="21">2</tspan><tspan dy="-21">O</tspan>-rGO</text>
</svg>
</body>
</html>
